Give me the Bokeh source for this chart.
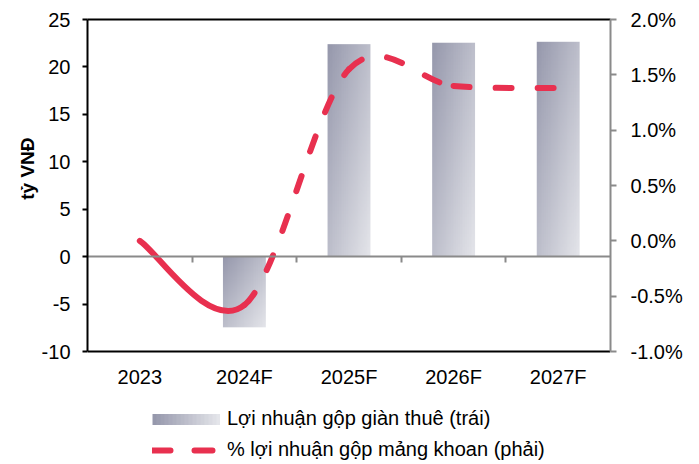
import numpy as np
from bokeh.plotting import figure
from bokeh.models import (Range1d, LinearAxis, FixedTicker, PrintfTickFormatter,
                          Legend, LegendItem, CustomLabelingPolicy, Title)
from bokeh.embed import file_html
from bokeh.resources import INLINE

# ---------------- data ----------------
categories = ["2023", "2024F", "2025F", "2026F", "2027F"]
rig_profit = [0.0, -7.45, 22.4, 22.55, 22.65]          # tỷ VNĐ (left axis)
drill_margin = [0.0, -0.58, 1.55, 1.40, 1.38]          # % (right axis)
left_ticks = [-10, -5, 0, 5, 10, 15, 20, 25]
right_ticks = [-1.0, -0.5, 0.0, 0.5, 1.0, 1.5, 2.0]
bar_label = "Lợi nhuận gộp giàn thuê (trái)"
line_label = "% lợi nhuận gộp mảng khoan (phải)"
y_label = "tỷ VNĐ"

# ---------------- styles / layout ----------------
FONT = "Liberation Sans"
FS = "20px"
RED = "#E8304F"
GRAY = "#8a8a8a"
C0 = np.array([150, 152, 172])
C1 = np.array([228, 229, 234])
BAR_W = 0.41
PLOT_H = 332          # pixel height of the axes area (-10 .. 25)
FRAME_H = 444         # frame extends below to hold the legend

n = len(categories)
xs = np.arange(n)

l_lo, l_hi = left_ticks[0], left_ticks[-1]
r_lo, r_hi = right_ticks[0], right_ticks[-1]
l_start = l_hi - FRAME_H * (l_hi - l_lo) / PLOT_H
r_start = r_hi - FRAME_H * (r_hi - r_lo) / PLOT_H

p = figure(x_range=Range1d(-0.5, n - 0.5), y_range=Range1d(l_start, l_hi),
           frame_width=523, frame_height=FRAME_H, x_axis_location=None,
           min_border_left=87, min_border_right=85, min_border_top=19, min_border_bottom=0,
           output_backend="svg", toolbar_location=None)
p.extra_y_ranges = {"pct": Range1d(r_start, r_hi)}
p.outline_line_color = None
p.grid.visible = False
p.background_fill_color = "white"
p.border_fill_color = "white"

# ---------------- bars (gradient images) ----------------
H, W = 64, 24
yy, xx = np.mgrid[0:H, 0:W]
v = 1 - yy / (H - 1)
u = xx / (W - 1)
t = (u + v) / 2
rgba = np.empty((H, W, 4), dtype=np.uint8)
for ch in range(3):
    rgba[..., ch] = np.round(C0[ch] + (C1[ch] - C0[ch]) * t).astype(np.uint8)
rgba[..., 3] = 255
img = rgba.view(np.uint32).reshape(H, W)

bx, by, bdh = [], [], []
for i, val in enumerate(rig_profit):
    if val != 0:
        bx.append(i - BAR_W / 2)
        by.append(min(0.0, val))
        bdh.append(abs(val))
p.image_rgba(image=[img] * len(bx), x=bx, y=by, dw=[BAR_W] * len(bx), dh=bdh)

# ---------------- smoothed line (Bezier segments) ----------------
P = np.column_stack([xs, np.array(drill_margin, dtype=float)])
segs = []
for i in range(n - 1):
    prev = P[i - 1] if i > 0 else P[i]
    nxt2 = P[i + 2] if i + 2 < n else P[i + 1]
    c0 = P[i] + (P[i + 1] - prev) / 6
    c1 = P[i + 1] - (nxt2 - P[i]) / 6
    segs.append((P[i], P[i + 1], c0, c1))

def bez(sl, dash):
    s = segs[sl]
    return p.bezier(x0=[a[0][0] for a in s], y0=[a[0][1] for a in s],
                    x1=[a[1][0] for a in s], y1=[a[1][1] for a in s],
                    cx0=[a[2][0] for a in s], cy0=[a[2][1] for a in s],
                    cx1=[a[3][0] for a in s], cy1=[a[3][1] for a in s],
                    y_range_name="pct", line_color=RED, line_width=6,
                    line_cap="round", line_dash=dash)

bez(slice(0, 1), "solid")
bez(slice(1, n - 1), "16 26")

# ---------------- axes ----------------
yax = p.yaxis[0]
yax.bounds = (l_lo, l_hi)
yax.ticker = FixedTicker(ticks=left_ticks)
yax.formatter = PrintfTickFormatter(format="%d")
yax.axis_line_color = "black"
yax.axis_line_width = 2
yax.major_tick_line_color = "black"
yax.major_tick_line_width = 2
yax.major_tick_in = 0
yax.major_tick_out = 5
yax.minor_tick_line_color = None
yax.major_label_standoff = 12
yax.major_label_text_font = FONT
yax.major_label_text_font_size = FS
yax.major_label_text_color = "black"

# vertical axis title, aligned to the value area rather than the whole frame
ytitle = Title(text=y_label, align="right", offset=118, standoff=2,
               text_font=FONT, text_font_size="19px", text_font_style="bold",
               text_color="black")
p.add_layout(ytitle, "left")

# category axis along the bottom of the value area
xax = LinearAxis(fixed_location=l_lo, ticker=FixedTicker(ticks=list(xs)),
                 major_label_overrides={int(i): c for i, c in zip(xs, categories)},
                 axis_line_color="black", axis_line_width=2,
                 major_tick_line_color=None, major_tick_in=0, major_tick_out=0,
                 minor_tick_line_color=None, major_label_standoff=14,
                 major_label_text_font=FONT, major_label_text_font_size=FS,
                 major_label_text_color="black")
p.add_layout(xax, "below")

# zero line with category boundary ticks (no labels)
no_labels = CustomLabelingPolicy(code="for (const i of indices) indices.unset(i); return indices")
zax = LinearAxis(fixed_location=0, ticker=FixedTicker(ticks=[i + 0.5 for i in range(n - 1)]),
                 axis_line_color=GRAY, axis_line_width=2,
                 major_tick_line_color=GRAY, major_tick_line_width=2,
                 major_tick_in=0, major_tick_out=6, minor_tick_line_color=None,
                 major_label_policy=no_labels, major_label_standoff=0)
p.add_layout(zax, "below")

# top border
tax = LinearAxis(ticker=FixedTicker(ticks=[]), axis_line_color="black", axis_line_width=2,
                 major_tick_line_color=None, minor_tick_line_color=None,
                 major_tick_in=0, major_tick_out=0, major_label_standoff=0)
p.add_layout(tax, "above")

rax = LinearAxis(y_range_name="pct", bounds=(r_lo, r_hi), ticker=FixedTicker(ticks=right_ticks),
                 formatter=PrintfTickFormatter(format="%.1f%%"),
                 axis_line_color=GRAY, axis_line_width=2,
                 major_tick_line_color=GRAY, major_tick_line_width=2,
                 major_tick_in=0, major_tick_out=6, minor_tick_line_color=None,
                 major_label_standoff=14, major_label_text_font=FONT,
                 major_label_text_font_size=FS, major_label_text_color="black")
p.add_layout(rax, "right")

# ---------------- legend ----------------
nan_pt = dict(x=np.array([np.nan]), y=np.array([np.nan]))
n_pieces = 17
piece = 4
bar_swatch = []
for k in range(n_pieces):
    tt = k / (n_pieces - 1)
    col = tuple(int(round(c)) for c in (C0 + (C1 - C0) * tt))
    col_hex = "#%02x%02x%02x" % col
    dash = f"{piece + 1} 1000" if k == 0 else f"0 {k * piece} {piece + 1} 1000"
    r = p.line(**nan_pt, line_color=col_hex, line_width=11, line_cap="butt", line_dash=dash)
    bar_swatch.append(r)
line_swatch = p.line(**nan_pt, line_color=RED, line_width=6, line_cap="round",
                     line_dash="18 24")

legend = Legend(items=[LegendItem(label=bar_label, renderers=bar_swatch),
                       LegendItem(label=line_label, renderers=[line_swatch])],
                location=(65, 2), orientation="vertical",
                glyph_width=68, glyph_height=20, label_height=20, label_standoff=7,
                spacing=8, padding=0, margin=0,
                label_text_font=FONT, label_text_font_size=FS, label_text_color="black",
                background_fill_alpha=0, border_line_color=None)
p.add_layout(legend, "center")

open("out.html", "w").write(file_html(p, INLINE))
